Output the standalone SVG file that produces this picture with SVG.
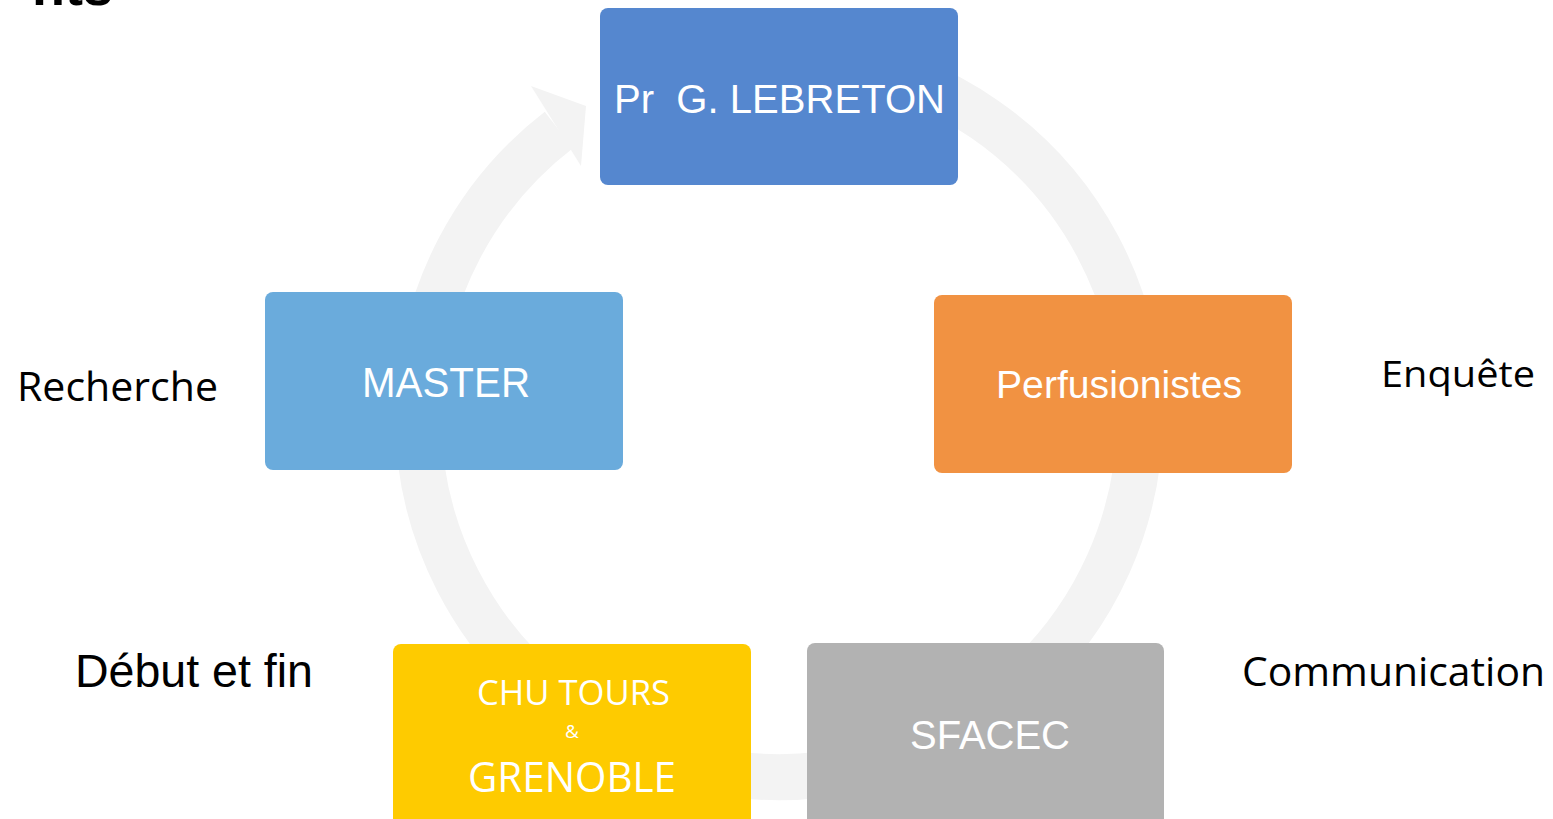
<svg xmlns="http://www.w3.org/2000/svg" width="1553" height="819" viewBox="0 0 1553 819">
<style>
.box{stroke:none}
.bt{font-family:"Liberation Sans",Arial,sans-serif;fill:#ffffff;text-anchor:middle}
.ct{font-family:"Open Sans","Noto Sans",sans-serif;fill:#ffffff;text-anchor:middle}
.lab{font-family:"Open Sans","Noto Sans",sans-serif;fill:#000000}
.labA{font-family:"Liberation Sans",Arial,sans-serif;fill:#000000}
.ring{fill:none;stroke:#f3f3f3;stroke-width:46}
</style>
<rect width="1553" height="819" fill="#ffffff"/>
<text class="labA" x="113" y="5" font-size="54" font-weight="bold" text-anchor="end">nts</text>
<g id="connectors">
<path class="ring" d="M 841.7 60.5 A 361 361 0 1 1 558.8 130"/>
<polygon points="531,86 586,106 581,166" fill="#f3f3f3"/>
</g>
<g id="node-lebreton">
<rect class="box" x="600" y="8" width="358" height="177" rx="8" fill="#5587cf"/>
<text class="bt" x="779.5" y="113" font-size="41" textLength="331" lengthAdjust="spacingAndGlyphs">Pr&#160; G. LEBRETON</text>
</g>
<g id="node-perfusionistes">
<rect class="box" x="934" y="295" width="358" height="178" rx="8" fill="#f19242"/>
<text class="bt" x="1119" y="398" font-size="39" textLength="246" lengthAdjust="spacingAndGlyphs">Perfusionistes</text>
</g>
<g id="node-sfacec">
<rect class="box" x="807" y="643" width="357" height="190" rx="8" fill="#b2b2b2"/>
<text class="bt" x="990" y="749" font-size="40" textLength="160" lengthAdjust="spacingAndGlyphs">SFACEC</text>
</g>
<g id="node-chu">
<rect class="box" x="393" y="644" width="358" height="190" rx="8" fill="#fecb00"/>
<text class="ct" x="573.5" y="705" font-size="35" textLength="193" lengthAdjust="spacingAndGlyphs">CHU TOURS</text>
<text class="ct" x="572" y="738" font-size="19">&amp;</text>
<text class="ct" x="572" y="792" font-size="42" textLength="208" lengthAdjust="spacingAndGlyphs">GRENOBLE</text>
</g>
<g id="node-master">
<rect class="box" x="265" y="292" width="358" height="178" rx="8" fill="#6aabdc"/>
<text class="bt" x="446" y="397" font-size="42" textLength="168" lengthAdjust="spacingAndGlyphs">MASTER</text>
</g>
<g id="labels">
<text class="lab" x="17" y="401" font-size="40" textLength="201" lengthAdjust="spacingAndGlyphs">Recherche</text>
<text class="lab" x="1381" y="387" font-size="37" textLength="154" lengthAdjust="spacingAndGlyphs">Enquête</text>
<text class="labA" x="75" y="687" font-size="46" textLength="238" lengthAdjust="spacingAndGlyphs">Début et fin</text>
<text class="lab" x="1242" y="686" font-size="41" textLength="303" lengthAdjust="spacingAndGlyphs">Communication</text>
</g>
</svg>
